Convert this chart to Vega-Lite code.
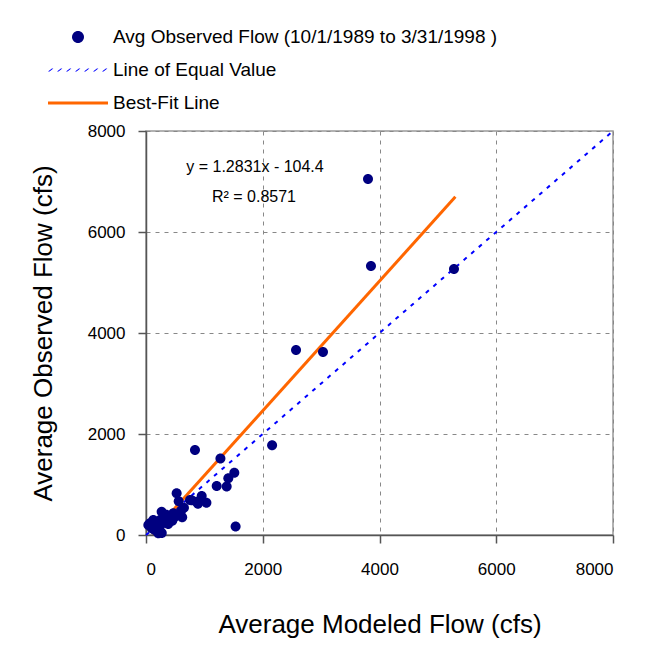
{
  "$schema": "https://vega.github.io/schema/vega-lite/v6.json",
  "autosize": {"type": "none"},
  "width": 467,
  "height": 404,
  "padding": {"left": 146, "top": 131, "right": 35, "bottom": 118},
  "background": "white",
  "config": {
    "font": "Liberation Sans",
    "view": {"stroke": "#999999", "strokeWidth": 1.5},
    "axis": {
      "labelFont": "Liberation Sans",
      "titleFont": "Liberation Sans",
      "labelFontSize": 17,
      "labelColor": "#000000",
      "titleFontSize": 26,
      "titleFontWeight": "normal",
      "titleColor": "#000000",
      "domainColor": "#555555",
      "domainWidth": 1.5,
      "tickColor": "#555555",
      "tickWidth": 1.5,
      "tickSize": 8,
      "gridColor": "#888888",
      "gridDash": [4, 5],
      "gridWidth": 1,
      "format": "d"
    }
  },
  "layer": [
    {
      "data": {"values": [
        {"modeled": 0, "observed": 0},
        {"modeled": 8000, "observed": 8000}
      ]},
      "mark": {"type": "line", "strokeWidth": 2, "strokeDash": [4, 6], "color": "#0000ff"},
      "encoding": {
        "x": {"field": "modeled", "type": "quantitative"},
        "y": {"field": "observed", "type": "quantitative"}
      }
    },
    {
      "data": {"values": [
        {"modeled": 100, "observed": 24},
        {"modeled": 5300, "observed": 6696}
      ]},
      "mark": {"type": "line", "strokeWidth": 3, "color": "#ff6600"},
      "encoding": {
        "x": {"field": "modeled", "type": "quantitative"},
        "y": {"field": "observed", "type": "quantitative"}
      }
    },
    {
      "data": {"values": [
        {"modeled": 3803, "observed": 7050},
        {"modeled": 3854, "observed": 5327},
        {"modeled": 5276, "observed": 5267},
        {"modeled": 2570, "observed": 3663},
        {"modeled": 3032, "observed": 3624},
        {"modeled": 2160, "observed": 1775},
        {"modeled": 839, "observed": 1683},
        {"modeled": 1275, "observed": 1515},
        {"modeled": 1513, "observed": 1234},
        {"modeled": 1410, "observed": 1122},
        {"modeled": 1382, "observed": 960},
        {"modeled": 1211, "observed": 970},
        {"modeled": 525, "observed": 825},
        {"modeled": 560, "observed": 670},
        {"modeled": 782, "observed": 690},
        {"modeled": 954, "observed": 770},
        {"modeled": 1035, "observed": 640},
        {"modeled": 890, "observed": 620},
        {"modeled": 754, "observed": 693},
        {"modeled": 868, "observed": 660},
        {"modeled": 1535, "observed": 170},
        {"modeled": 268, "observed": 462},
        {"modeled": 582, "observed": 430},
        {"modeled": 468, "observed": 430},
        {"modeled": 468, "observed": 330},
        {"modeled": 411, "observed": 363},
        {"modeled": 183, "observed": 264},
        {"modeled": 125, "observed": 297},
        {"modeled": 68, "observed": 231},
        {"modeled": 211, "observed": 33},
        {"modeled": 40, "observed": 198},
        {"modeled": 97, "observed": 132},
        {"modeled": 250, "observed": 300},
        {"modeled": 350, "observed": 400},
        {"modeled": 520, "observed": 380},
        {"modeled": 620, "observed": 350},
        {"modeled": 450, "observed": 280},
        {"modeled": 300, "observed": 250},
        {"modeled": 150, "observed": 100},
        {"modeled": 600, "observed": 480},
        {"modeled": 380, "observed": 220},
        {"modeled": 240, "observed": 180},
        {"modeled": 160, "observed": 240},
        {"modeled": 650, "observed": 540},
        {"modeled": 270, "observed": 40}
      ]},
      "transform": [{"calculate": "'Avg Observed Flow (10/1/1989 to 3/31/1998 )'", "as": "series"}],
      "mark": {"type": "point", "filled": true, "opacity": 1, "size": 625},
      "encoding": {
        "x": {
          "field": "modeled", "type": "quantitative",
          "scale": {"domain": [0, 8000], "nice": false, "zero": true},
          "axis": {"values": [0, 2000, 4000, 6000, 8000], "title": "Average Modeled Flow (cfs)", "labelPadding": 18, "titlePadding": 34}
        },
        "y": {
          "field": "observed", "type": "quantitative",
          "scale": {"domain": [0, 8000], "nice": false},
          "axis": {"values": [0, 2000, 4000, 6000, 8000], "title": "Average Observed Flow  (cfs)", "labelPadding": 13, "titlePadding": 31}
        },
        "color": {
          "field": "series", "type": "nominal",
          "scale": {
            "domain": ["Avg Observed Flow (10/1/1989 to 3/31/1998 )", "Line of Equal Value", "Best-Fit Line"],
            "range": ["#000080", "#0000ff", "#ff6600"]
          },
          "legend": {
            "title": null,
            "orient": "none",
            "legendX": -83,
            "legendY": -109,
            "labelFontSize": 19,
            "labelColor": "#000000",
            "labelFont": "Liberation Sans",
            "symbolSize": 900,
            "symbolStrokeWidth": 0,
            "symbolOpacity": 1,
            "rowPadding": 8,
            "labelOffset": 20,
            "labelLimit": 600
          }
        },
        "shape": {
          "field": "series", "type": "nominal",
          "scale": {
            "domain": ["Avg Observed Flow (10/1/1989 to 3/31/1998 )", "Line of Equal Value", "Best-Fit Line"],
            "range": [
              "M-0.4,0A0.4,0.4,0,1,1,0.4,0A0.4,0.4,0,1,1,-0.4,0Z",
              "M-2,0.1L-1.74,-0.1L-1.64,-0.1L-1.9,0.1ZM-1.4,0.1L-1.14,-0.1L-1.04,-0.1L-1.3,0.1ZM-0.8,0.1L-0.54,-0.1L-0.44,-0.1L-0.7,0.1ZM-0.2,0.1L0.06,-0.1L0.16,-0.1L-0.1,0.1ZM0.4,0.1L0.66,-0.1L0.76,-0.1L0.5,0.1ZM1,0.1L1.26,-0.1L1.36,-0.1L1.1,0.1ZM1.6,0.1L1.86,-0.1L1.96,-0.1L1.7,0.1Z",
              "M-2,-0.1L2,-0.1L2,0.1L-2,0.1Z"
            ]
          },
          "legend": {
            "title": null,
            "orient": "none",
            "legendX": -83,
            "legendY": -109,
            "labelFontSize": 19,
            "labelColor": "#000000",
            "symbolSize": 900,
            "symbolStrokeWidth": 0,
            "rowPadding": 8,
            "labelOffset": 20,
            "labelLimit": 600
          }
        }
      }
    },
    {
      "data": {"values": [
        {"modeled": 1867, "observed": 7287, "label": "y = 1.2831x - 104.4"},
        {"modeled": 1850, "observed": 6693, "label": "R² = 0.8571"}
      ]},
      "mark": {"type": "text", "fontSize": 16, "font": "Liberation Sans", "color": "#000000", "align": "center", "baseline": "middle"},
      "encoding": {
        "x": {"field": "modeled", "type": "quantitative"},
        "y": {"field": "observed", "type": "quantitative"},
        "text": {"field": "label"}
      }
    }
  ]
}
